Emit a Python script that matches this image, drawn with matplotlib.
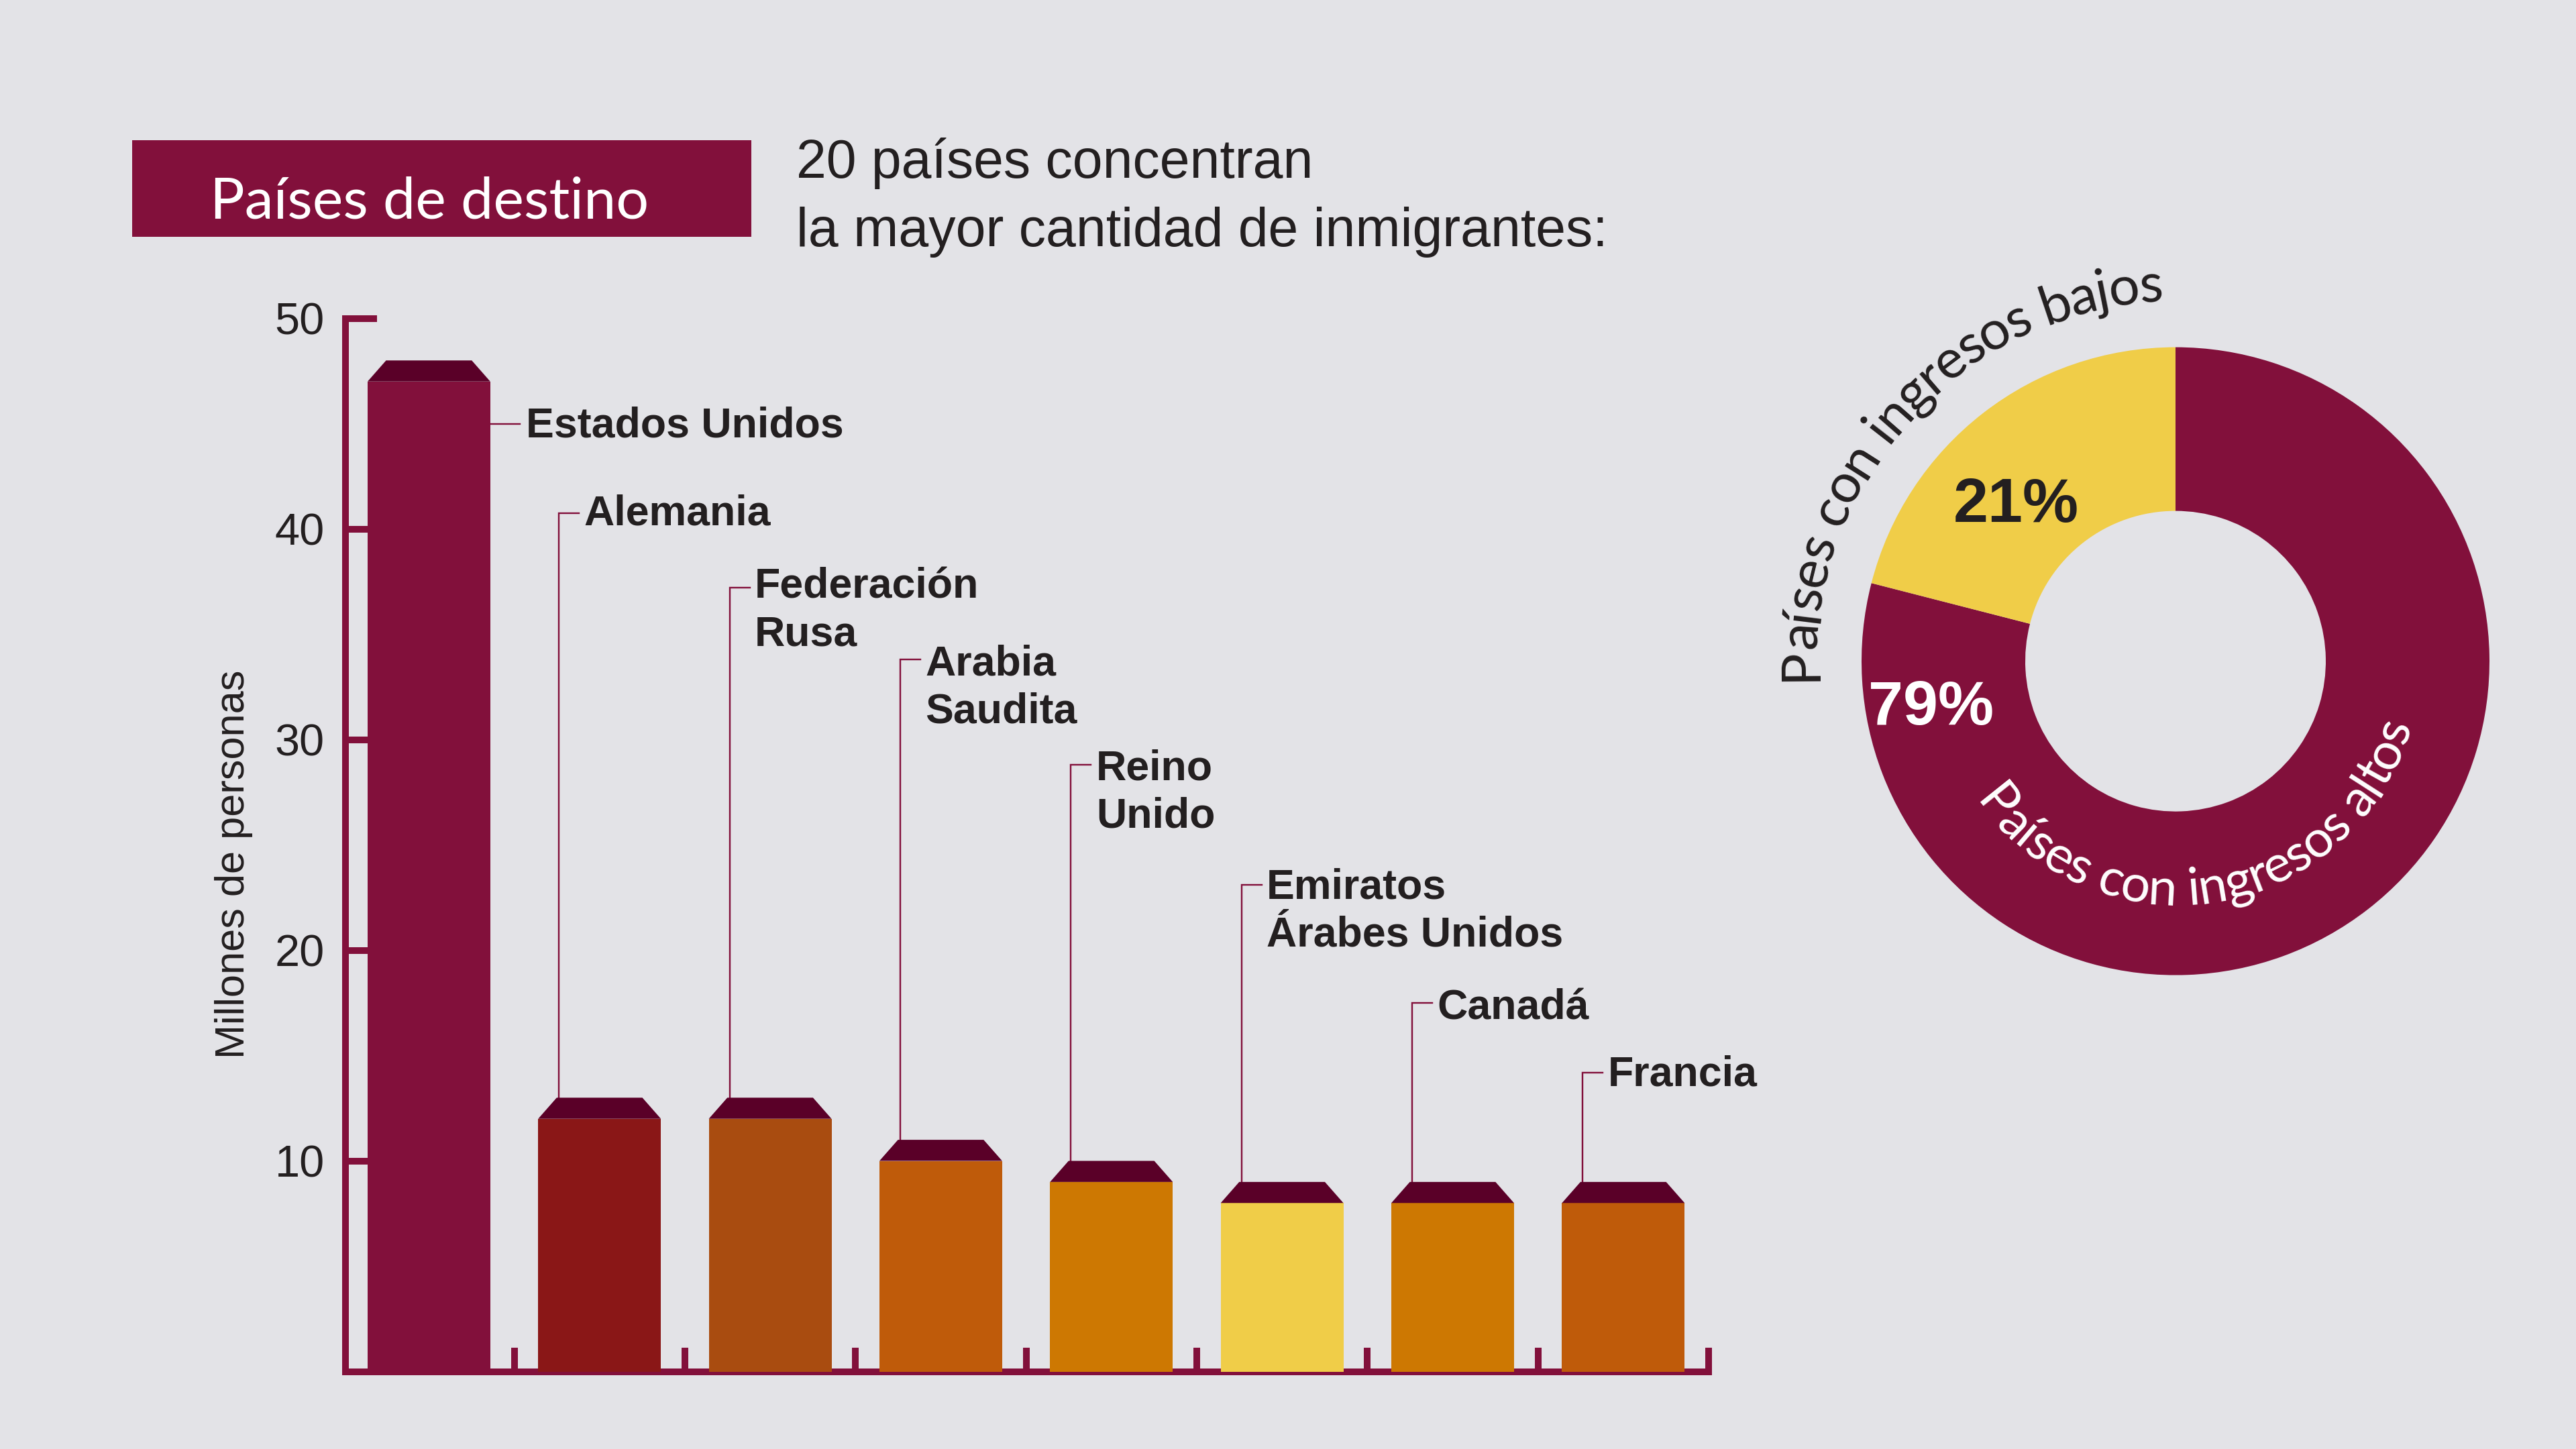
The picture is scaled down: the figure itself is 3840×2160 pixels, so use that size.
import matplotlib
matplotlib.use("Agg")
import numpy as np
import matplotlib.pyplot as plt
from matplotlib.font_manager import FontProperties
from matplotlib.patches import Rectangle
from matplotlib.textpath import TextToPath
from matplotlib.transforms import Affine2D

# ---- data ----
countries = ["Estados Unidos", "Alemania", "Federación\nRusa", "Arabia\nSaudita",
             "Reino\nUnido", "Emiratos\nÁrabes Unidos", "Canadá", "Francia"]
migrants = [47, 12, 12, 10, 9, 8, 8, 8]
y_ticks = [10, 20, 30, 40, 50]
income_shares = [79, 21]

# ---- styles and layout ----
bar_colors = ["#82103B", "#8A1717", "#A94C10", "#BF5B0A", "#CD7802", "#F0CD48", "#CD7802", "#BF5B0A"]
income_colors = ["#82103B", "#F0CD48"]
leader_levels = [45.0, 40.75, 37.2, 33.8, 28.8, 23.1, 17.5, 14.2]
text_baselines = [44.35, 40.18, 36.71, 33.07, 28.08, 22.45, 16.72, 13.58]
BG = "#E3E3E7"
WINE = "#82103B"
CAP = "#5A0028"
INK = "#231F20"
W, H = 3840, 2160
DPI = 240
PT = 72 / DPI  # one output pixel in points

fig = plt.figure(figsize=(W / DPI, H / DPI), dpi=DPI, facecolor=BG)
px = Affine2D().scale(1, -1).translate(0, H)  # top-left pixel coordinates

SANS = "Liberation Sans"
HUMAN = "Lato"

# ---- header ----
fig.add_artist(Rectangle((197, 209), 923, 144, transform=px, facecolor=WINE, edgecolor="none"))
fig.text(313, 325, "Países de destino", transform=px, color="white", family=HUMAN,
         fontsize=25.9, ha="left", va="baseline")
fig.text(1187, 265, "20 países concentran", transform=px, color=INK, family=SANS,
         fontsize=24.2, ha="left", va="baseline")
fig.text(1187, 367, "la mayor cantidad de inmigrantes:", transform=px, color=INK, family=SANS,
         fontsize=24.2, ha="left", va="baseline")

# ---- bars ----
AX_L, AX_R, AX_B, AX_T = 515, 2547, 2044.5, 474.5
ax = fig.add_axes([AX_L / W, 1 - AX_B / H, (AX_R - AX_L) / W, (AX_B - AX_T) / H])
ax.set_facecolor("none")
ax.set_xlim(-0.489, 7.492)
ax.set_ylim(0, 50)
for s in ("top", "right"):
    ax.spines[s].set_visible(False)
for s in ("left", "bottom"):
    ax.spines[s].set_color(WINE)
    ax.spines[s].set_linewidth(10 * PT)
ax.set_axisbelow(True)

positions = np.arange(len(migrants))
BAR_W = 0.719
ax.bar(positions, migrants, width=BAR_W, color=bar_colors, edgecolor="none", zorder=3)
for x, v in zip(positions, migrants):
    ax.fill([x - BAR_W / 2, x - 0.251, x + 0.251, x + BAR_W / 2], [v, v + 1, v + 1, v],
            color=CAP, lw=0, zorder=3)

ax.set_yticks(y_ticks)
ax.set_xticks(positions + 0.5)
ax.set_xticklabels([])
ax.tick_params(axis="y", direction="in", length=47 * PT, width=10 * PT, color=WINE,
               labelsize=20, labelcolor=INK, pad=31 * PT)
ax.tick_params(axis="x", direction="in", length=36 * PT, width=10 * PT, color=WINE)
for t in ax.get_yticklabels():
    t.set_family(SANS)
ax.set_ylabel("Millones de personas", family=SANS, fontsize=18.4, color=INK)
ax.yaxis.set_label_coords((377 - AX_L) / (AX_R - AX_L), (AX_B - 1288) / (AX_B - AX_T))

LINE_W = 2.4 * PT
for i, (name, level, base, v) in enumerate(zip(countries, leader_levels, text_baselines, migrants)):
    if i == 0:
        ax.plot([i + BAR_W / 2, i + 0.532], [level, level], color=WINE, lw=LINE_W, zorder=2)
        tx = i + 0.567
    else:
        ax.plot([i - 0.238, i - 0.238, i - 0.12], [v + 1, level, level], color=WINE,
                lw=LINE_W, zorder=2, solid_joinstyle="miter")
        tx = i - 0.09
    for k, part in enumerate(name.split("\n")):
        ax.text(tx, base - 2.26 * k, part, family=SANS, fontweight="bold",
                fontsize=18.8, color=INK, ha="left", va="baseline")

# ---- donut ----
CX, CY, R = 3243, 985.6, 468
ax2 = fig.add_axes([(CX - R) / W, 1 - (CY + R) / H, 2 * R / W, 2 * R / H])
ax2.pie(income_shares, colors=income_colors, startangle=90, counterclock=False, radius=1,
        wedgeprops={"width": 1 - 224 / R, "linewidth": 0})
ax2.set_xlim(-1, 1)
ax2.set_ylim(-1, 1)
ax2.set_aspect("equal")
ax2.patch.set_visible(False)
for a in ax2.spines.values():
    a.set_visible(False)


def arc_text(axis, text, fp, radius, start, end, color, outward):
    """Set text letter by letter along a circle; angles in degrees."""
    ttp = TextToPath()
    total = ttp.get_text_width_height_descent(text, fp, False)[0]
    for i, ch in enumerate(text):
        if ch == " ":
            continue
        before = ttp.get_text_width_height_descent(text[:i], fp, False)[0] if i else 0
        after = ttp.get_text_width_height_descent(text[:i + 1], fp, False)[0]
        th = start + (end - start) * (before + after) / 2 / total
        rad = np.deg2rad(th)
        rot = th - 90 if outward else th + 90
        axis.text(radius * np.cos(rad), radius * np.sin(rad), ch, fontproperties=fp,
                  color=color, rotation=rot, rotation_mode="anchor",
                  ha="center", va="baseline", clip_on=False)


arc_text(ax2, "Países con ingresos bajos", FontProperties(family=HUMAN, size=24.5),
         536 / R, 183, 92, INK, True)
arc_text(ax2, "Países con ingresos altos", FontProperties(family=HUMAN, size=23.2),
         364 / R, 215, 345, "white", False)

fig.text(3005, 778, "21%", transform=px, family=SANS, fontweight="bold", fontsize=28,
         color=INK, ha="center", va="baseline")
fig.text(2879, 1080, "79%", transform=px, family=SANS, fontweight="bold", fontsize=28,
         color="white", ha="center", va="baseline")

fig.savefig("out.png", dpi=DPI, facecolor=BG)
